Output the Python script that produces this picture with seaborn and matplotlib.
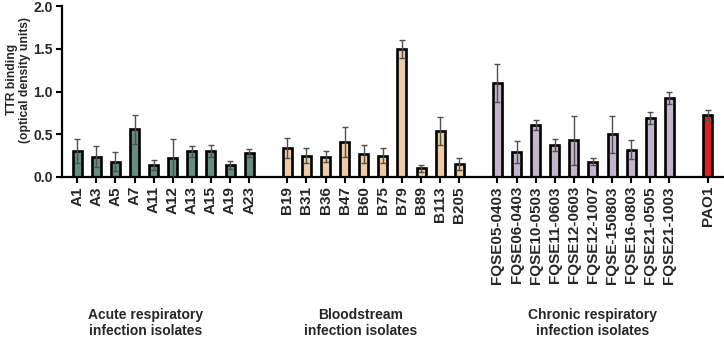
import pandas as pd
import numpy as np
import matplotlib
matplotlib.use("Agg")
import matplotlib.pyplot as plt
import matplotlib.transforms as mtransforms
import seaborn as sns

# isolates per group, mean TTR binding and error
acute_names = ["A1", "A3", "A5", "A7", "A11", "A12", "A13", "A15", "A19", "A23"]
acute_ttr = [0.30, 0.24, 0.18, 0.56, 0.14, 0.22, 0.30, 0.31, 0.14, 0.28]
acute_err = [0.14, 0.12, 0.11, 0.17, 0.06, 0.23, 0.06, 0.07, 0.05, 0.05]

blood_names = ["B19", "B31", "B36", "B47", "B60", "B75", "B79", "B89", "B113", "B205"]
blood_ttr = [0.34, 0.25, 0.24, 0.41, 0.27, 0.25, 1.50, 0.10, 0.54, 0.15]
blood_err = [0.12, 0.09, 0.07, 0.18, 0.11, 0.09, 0.11, 0.04, 0.16, 0.07]

chronic_names = ["FQSE05-0403", "FQSE06-0403", "FQSE10-0503", "FQSE11-0603",
                 "FQSE12-0603", "FQSE12-1007", "FQSE-150803", "FQSE16-0803",
                 "FQSE21-0505", "FQSE21-1003"]
chronic_ttr = [1.10, 0.29, 0.61, 0.37, 0.43, 0.18, 0.50, 0.32, 0.69, 0.92]
chronic_err = [0.22, 0.13, 0.06, 0.07, 0.29, 0.04, 0.22, 0.11, 0.07, 0.07]

ref_names = ["PAO1"]
ref_ttr = [0.73]
ref_err = [0.06]

group_titles = ["Acute respiratory\ninfection isolates",
                "Bloodstream\ninfection isolates",
                "Chronic respiratory\ninfection isolates"]

palette = {"acute": "#5E9580", "blood": "#F9CC9B", "chronic": "#C5B1D1", "ref": "#FF0000"}

df = pd.concat([
    pd.DataFrame({"isolate": acute_names, "ttr": acute_ttr, "err": acute_err, "group": "acute"}),
    pd.DataFrame({"isolate": blood_names, "ttr": blood_ttr, "err": blood_err, "group": "blood"}),
    pd.DataFrame({"isolate": chronic_names, "ttr": chronic_ttr, "err": chronic_err, "group": "chronic"}),
    pd.DataFrame({"isolate": ref_names, "ttr": ref_ttr, "err": ref_err, "group": "ref"}),
], ignore_index=True)

# empty slots between the groups
order = acute_names + [" "] + blood_names + ["  "] + chronic_names + ["   "] + ref_names
pos = {name: i for i, name in enumerate(order)}

sns.set_style("ticks")
plt.rcParams["font.family"] = ["Liberation Sans", "DejaVu Sans"]
plt.rcParams["font.weight"] = "bold"

fig = plt.figure(figsize=(7.24, 3.4), dpi=100)
ax = fig.add_axes([62 / 724, 1 - 177 / 340, 662 / 724, 170.8 / 340])

sns.barplot(data=df, x="isolate", y="ttr", hue="group", order=order, palette=palette,
            dodge=False, width=0.47, edgecolor="black", linewidth=1.9,
            errorbar=None, legend=False, ax=ax)

xs = df["isolate"].map(pos).to_numpy()
ax.errorbar(xs, df["ttr"], yerr=df["err"], fmt="none", ecolor="#505050",
            elinewidth=1.0, capsize=2.3, capthick=1.0, zorder=3)

ax.set_xlim(-0.8, 33.86)
ax.set_ylim(0, 2.0)
ax.set_yticks(np.arange(0, 2.01, 0.5))
ax.set_yticklabels([f"{v:.1f}" for v in np.arange(0, 2.01, 0.5)], fontsize=10, fontweight="bold")
ax.set_xticks(xs)
ax.set_xticklabels(df["isolate"], rotation=90, fontsize=11, fontweight="bold")
ax.tick_params(axis="both", length=4.5, width=1.5, color="black")
ax.tick_params(axis="x", pad=2)
ax.tick_params(axis="y", pad=2)

ax.set_xlabel("")
ax.set_ylabel("TTR binding\n(optical density units)", fontsize=8.7, fontweight="bold",
              linespacing=1.15)
ax.yaxis.set_label_coords(-0.047, 0.57)

sns.despine(ax=ax)
for side in ["left", "bottom"]:
    ax.spines[side].set_linewidth(1.6)
    ax.spines[side].set_color("black")

trans = mtransforms.blended_transform_factory(ax.transData, ax.transAxes)
for x, title in zip([3.6, 14.85, 27.0], group_titles):
    ax.text(x, -0.855, title, transform=trans, ha="center", va="center",
            fontsize=10, fontweight="bold", linespacing=1.1)

fig.savefig("out.png", dpi=100)
